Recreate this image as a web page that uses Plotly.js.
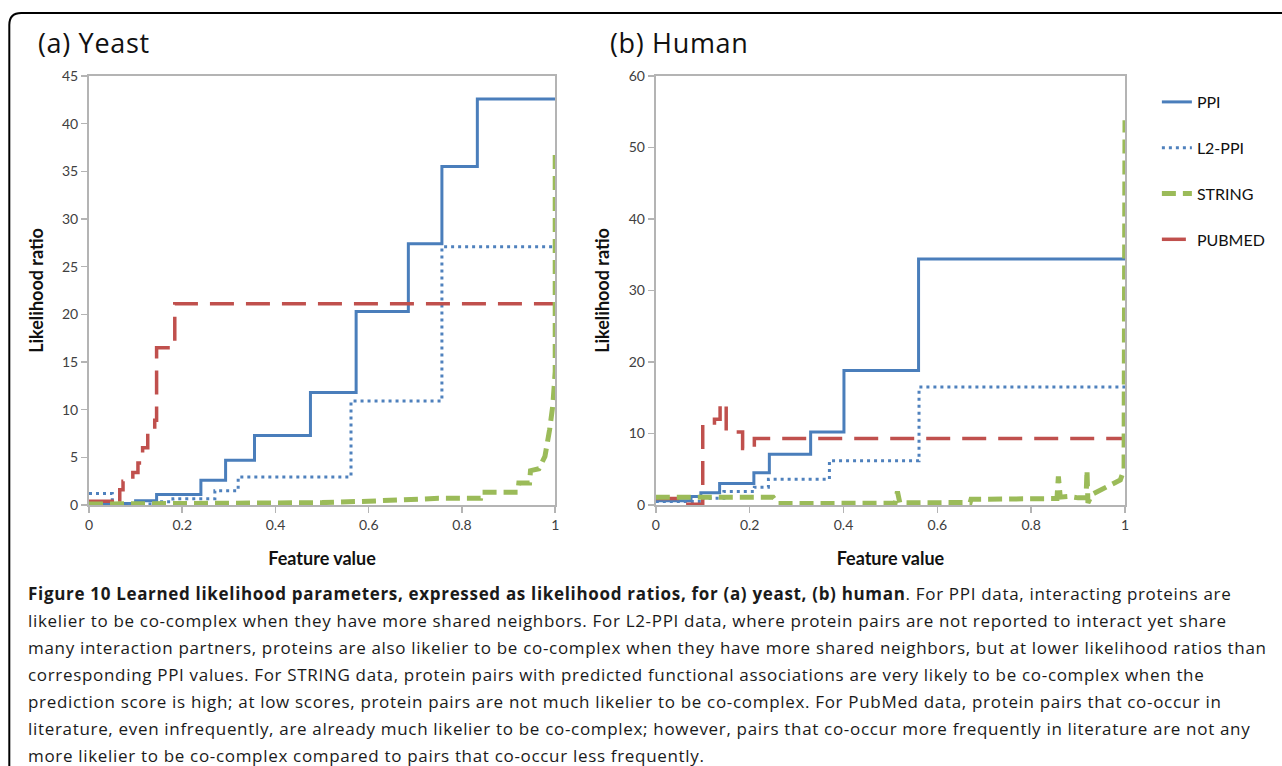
<!DOCTYPE html>
<html>
<head>
<meta charset="utf-8">
<script src="https://cdn.plot.ly/plotly-3.0.1.min.js"></script>
<style>
html,body{margin:0;padding:0;background:#fff;}
#chart{width:1282px;height:766px;}
.annotation text{letter-spacing:0.68px;}
</style>
</head>
<body>
<div id="chart"></div>
<script>
// ---------- Data ----------
// (a) Yeast
const ppiYeastX = [0, 0.1, 0.145, 0.24, 0.293, 0.355, 0.475, 0.573, 0.685, 0.757, 0.833, 1.0];
const ppiYeastY = [0.15, 0.45, 1.1, 2.6, 4.7, 7.3, 11.8, 20.3, 27.4, 35.5, 42.6, 42.6];
const l2YeastX = [0, 0.05, 0.15, 0.18, 0.27, 0.32, 0.562, 0.757, 1.0];
const l2YeastY = [1.2, 0.1, 0.35, 0.65, 1.5, 2.95, 10.9, 27.1, 27.1];
const pubYeastX = [0, 0.05, 0.066, 0.073, 0.094, 0.105, 0.115, 0.126, 0.141, 0.145, 0.184, 1.0];
const pubYeastY = [0.4, 0.1, 1.6, 2.5, 3.4, 4.4, 6.0, 7.7, 8.9, 16.5, 21.1, 21.1];
const strYeastX = [0, 0.3, 0.5, 0.6, 0.75, 0.84, 0.842, 0.92, 0.922, 0.945, 0.947, 0.965, 0.978, 0.988, 0.995, 1.0, 1.0];
const strYeastY = [0.1, 0.15, 0.25, 0.4, 0.7, 0.7, 1.35, 1.35, 2.3, 2.3, 3.6, 3.8, 5.1, 7.9, 10.5, 14, 37.2];

// (b) Human
const ppiHumanX = [0, 0.075, 0.096, 0.136, 0.209, 0.242, 0.33, 0.401, 0.56, 1.0];
const ppiHumanY = [0.6, 1.2, 1.7, 3.0, 4.5, 7.1, 10.2, 18.8, 34.4, 34.4];
const l2HumanX = [0, 0.1, 0.145, 0.21, 0.24, 0.37, 0.561, 1.0];
const l2HumanY = [0.5, 0.95, 1.9, 2.5, 3.6, 6.2, 16.5, 16.5];
const pubHumanX = [0, 0.05, 0.1, 0.125, 0.137, 0.15, 0.185, 0.21, 1.0];
const pubHumanY = [0.9, 0.1, 11.2, 12.0, 14.2, 10.2, 7.9, 9.3, 9.3];
const strHumanX = [0, 0.25, 0.26, 0.51, 0.515, 0.52, 0.67, 0.672, 0.855, 0.858, 0.862, 0.88, 0.9, 0.917, 0.919, 0.921, 0.93, 0.96, 0.99, 0.998, 1.0];
const strHumanY = [1.1, 1.1, 0.2, 0.25, 1.9, 0.3, 0.35, 0.8, 0.9, 4.0, 1.1, 1.2, 1.0, 1.0, 4.9, 0.3, 1.5, 2.5, 3.5, 5.0, 53.8];

const seriesNames = ['PPI', 'L2-PPI', 'STRING', 'PUBMED'];
const panelTitles = ['(a) Yeast', '(b) Human'];
const xTickVals = [0, 0.2, 0.4, 0.6, 0.8, 1];
const xTickText = ['0', '0.2', '0.4', '0.6', '0.8', '1'];
const xTitle = 'Feature value';
const yTitle = 'Likelihood ratio';
const captionBold = 'Figure 10 Learned likelihood parameters, expressed as likelihood ratios, for (a) yeast, (b) human';
const captionLines = [
  '. For PPI data, interacting proteins are',
  'likelier to be co-complex when they have more shared neighbors. For L2-PPI data, where protein pairs are not reported to interact yet share',
  'many interaction partners, proteins are also likelier to be co-complex when they have more shared neighbors, but at lower likelihood ratios than',
  'corresponding PPI values. For STRING data, protein pairs with predicted functional associations are very likely to be co-complex when the',
  'prediction score is high; at low scores, protein pairs are not much likelier to be co-complex. For PubMed data, protein pairs that co-occur in',
  'literature, even infrequently, are already much likelier to be co-complex; however, pairs that co-occur more frequently in literature are not any',
  'more likelier to be co-complex compared to pairs that co-occur less frequently.'
];

// ---------- Styles ----------
const styles = {
  'PPI':    {color: '#4A7EBB', width: 3, dash: 'solid', shape: 'hv'},
  'L2-PPI': {color: '#4F81BD', width: 3, dash: '3px,4px', shape: 'hv'},
  'STRING': {color: '#9BBB59', width: 5, dash: '14px,7px', shape: 'linear'},
  'PUBMED': {color: '#C0504D', width: 3.5, dash: '24px,12px', shape: 'hv'}
};
const rank = {'PPI': 1, 'L2-PPI': 2, 'STRING': 3, 'PUBMED': 4};

function tr(name, x, y, xa, ya, legend) {
  const s = styles[name];
  return {
    type: 'scatter', mode: 'lines', name: name, x: x, y: y,
    xaxis: xa, yaxis: ya, showlegend: legend, legendgroup: name, legendrank: rank[name],
    line: {color: s.color, width: s.width, dash: s.dash, shape: s.shape},
    hoverinfo: 'skip'
  };
}

const data = [
  tr('PPI', ppiYeastX, ppiYeastY, 'x', 'y', false),
  tr('L2-PPI', l2YeastX, l2YeastY, 'x', 'y', false),
  tr('PUBMED', pubYeastX, pubYeastY, 'x', 'y', false),
  tr('STRING', strYeastX, strYeastY, 'x', 'y', false),
  tr('PPI', ppiHumanX, ppiHumanY, 'x2', 'y2', true),
  tr('L2-PPI', l2HumanX, l2HumanY, 'x2', 'y2', true),
  tr('PUBMED', pubHumanX, pubHumanY, 'x2', 'y2', true),
  tr('STRING', strHumanX, strHumanY, 'x2', 'y2', true)
];

// ---------- Layout (px -> paper helpers) ----------
const L = 89, R = 1129, T = 76, B = 505;
const W = 1282, H = 766;
const px = v => (v - L) / (R - L);
const py = v => (B - v) / (B - T);

const chartFont = 'Lato, "Open Sans", sans-serif';
const tickFont = {family: chartFont, size: 14, color: '#404040'};
const axTitleFont = {family: chartFont, size: 18, color: '#111', weight: 'bold'};

function xAxis(domain, anchor) {
  return {
    domain: domain, anchor: anchor, range: [0, 1], tickvals: xTickVals, ticktext: xTickText,
    showgrid: false, zeroline: false, showline: true, mirror: true,
    linecolor: '#b4b4b4', linewidth: 2, ticks: 'outside', ticklen: 6, tickwidth: 1.5, tickcolor: '#b4b4b4',
    tickfont: tickFont, fixedrange: true,
    title: {text: xTitle, font: axTitleFont, standoff: 21}
  };
}
function yAxis(range, dtick, anchor) {
  return {
    range: range, dtick: dtick, anchor: anchor,
    showgrid: false, zeroline: false, showline: true, mirror: true,
    linecolor: '#b4b4b4', linewidth: 2, ticks: 'outside', ticklen: 6, tickwidth: 1.5, tickcolor: '#b4b4b4',
    tickfont: tickFont, fixedrange: true,
    title: {text: yTitle, font: axTitleFont, standoff: 14}
  };
}

const annotations = [
  {text: panelTitles[0], xref: 'paper', yref: 'paper', x: px(39), y: py(42), xanchor: 'left', yanchor: 'middle', showarrow: false, font: {family: '"Open Sans", sans-serif', size: 27, color: '#111'}},
  {text: panelTitles[1], xref: 'paper', yref: 'paper', x: px(613), y: py(42), xanchor: 'left', yanchor: 'middle', showarrow: false, font: {family: '"Open Sans", sans-serif', size: 27, color: '#111'}}
];
captionLines.forEach((line, i) => {
  annotations.push({
    text: i === 0 ? '<b>' + captionBold + '</b>' + line : line,
    xref: 'paper', yref: 'paper', x: px(26), y: py(593 + 27 * i),
    xanchor: 'left', yanchor: 'middle', align: 'left', showarrow: false,
    font: {family: '"Open Sans", sans-serif', size: 17, color: '#1a1a1a'}
  });
});

// Figure frame (rounded top-left corner)
const fx0 = px(9), fy0 = py(13), fx1 = px(1300), fy1 = py(800);
const rx = 12 / (R - L), ry = 12 / (B - T);
const framePath = `M ${fx0},${fy1} L ${fx0},${fy0 - ry} Q ${fx0},${fy0} ${fx0 + rx},${fy0} L ${fx1},${fy0}`;

const layout = {
  width: W, height: H,
  margin: {l: L, r: W - R, t: T, b: H - B},
  paper_bgcolor: '#ffffff', plot_bgcolor: '#ffffff',
  font: {family: chartFont, color: '#222'},
  xaxis: xAxis([0, px(557)], 'y'),
  yaxis: yAxis([0, 45], 5, 'x'),
  xaxis2: xAxis([px(658), 1], 'y2'),
  yaxis2: yAxis([0, 60], 10, 'x2'),
  showlegend: true,
  legend: {
    x: px(1161), y: py(85), xanchor: 'left', yanchor: 'top',
    font: {family: chartFont, size: 16, color: '#111'},
    tracegroupgap: 22, bgcolor: 'rgba(0,0,0,0)', borderwidth: 0
  },
  annotations: annotations,
  shapes: [{type: 'path', xref: 'paper', yref: 'paper', path: framePath, line: {color: '#000', width: 2}, layer: 'above'}]
};

Plotly.newPlot('chart', data, layout, {displayModeBar: false, staticPlot: true});
</script>
</body>
</html>
